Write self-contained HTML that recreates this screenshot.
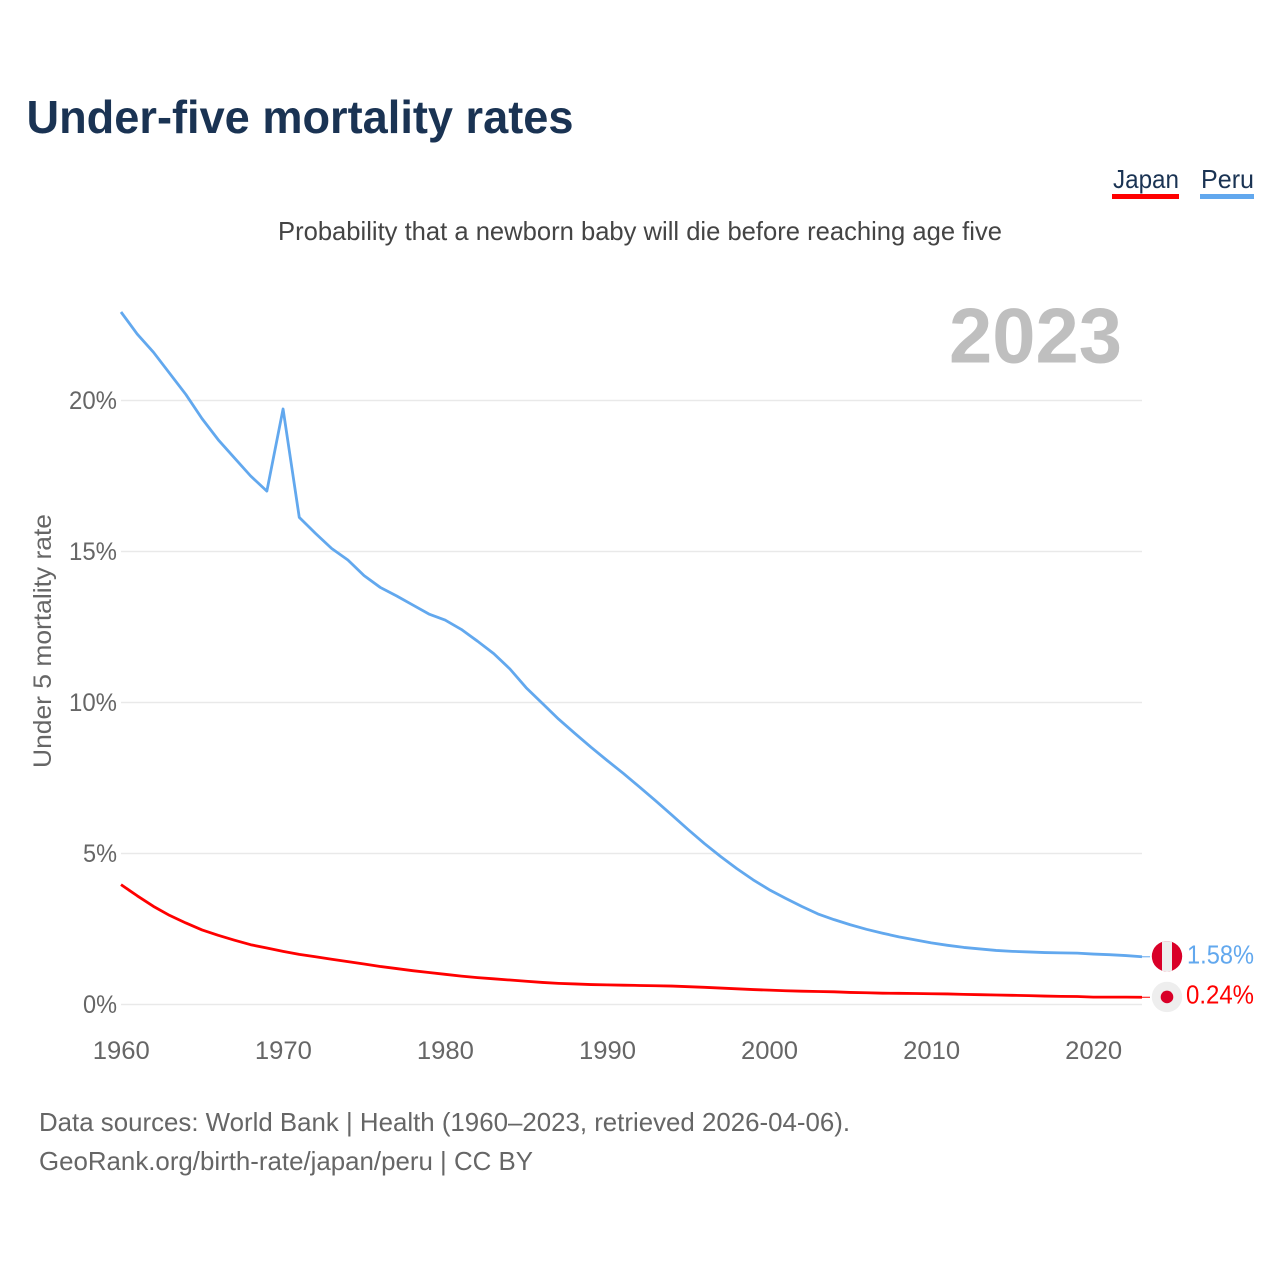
<!DOCTYPE html>
<html lang="en">
<head>
<meta charset="utf-8">
<title>Under-five mortality rates</title>
<style>
  html, body { margin: 0; padding: 0; background: #fff; }
  svg { display: block; }
  text { font-family: "Liberation Sans", "DejaVu Sans", sans-serif; }
</style>
</head>
<body>
<svg id="chart" xmlns="http://www.w3.org/2000/svg" width="1280" height="1280" viewBox="0 0 1280 1280">
  <rect x="0" y="0" width="1280" height="1280" fill="#ffffff"/>
  <text x="26.5" y="133" font-size="46" font-weight="700" fill="#1a3353" textLength="547" lengthAdjust="spacingAndGlyphs">Under-five mortality rates</text>

  <g>
    <g>
      <text x="1113" y="188" font-size="26" fill="#1a3353" textLength="66" lengthAdjust="spacingAndGlyphs">Japan</text>
      <rect x="1112" y="194" width="67" height="5" fill="#ff0000"/>
    </g>
    <g>
      <text x="1201" y="188" font-size="26" fill="#1a3353" textLength="53" lengthAdjust="spacingAndGlyphs">Peru</text>
      <rect x="1200" y="194" width="54" height="5" fill="#62a8ee"/>
    </g>
  </g>

  <text x="278" y="240" font-size="26" fill="#444444" textLength="724" lengthAdjust="spacingAndGlyphs">Probability that a newborn baby will die before reaching age five</text>
  <text x="949" y="362.7" font-size="78" font-weight="700" fill="#bfbfbf" textLength="173" lengthAdjust="spacingAndGlyphs">2023</text>
  <text transform="translate(51 768) rotate(-90)" x="0" y="0" font-size="25" fill="#666666" textLength="254" lengthAdjust="spacingAndGlyphs">Under 5 mortality rate</text>

  <g id="grid"></g>
  <g id="y-axis"></g>
  <g id="x-axis"></g>
  <g id="series"></g>
  <g id="markers"></g>

  <text x="39" y="1131" font-size="26" fill="#666666" textLength="811" lengthAdjust="spacingAndGlyphs">Data sources: World Bank | Health (1960–2023, retrieved 2026-04-06).</text>
  <text x="39" y="1170" font-size="26" fill="#666666" textLength="494" lengthAdjust="spacingAndGlyphs">GeoRank.org/birth-rate/japan/peru | CC BY</text>
</svg>
<script>
const startYear = 1960;
const xTicks = [1960, 1970, 1980, 1990, 2000, 2010, 2020];
const yTicks = [0, 5, 10, 15, 20];
const peruValues = [
  22.93, 22.2, 21.6, 20.9, 20.2, 19.4, 18.7, 18.1, 17.5, 17.0,
  19.72, 16.13, 15.6, 15.1, 14.72, 14.2, 13.81, 13.53, 13.23, 12.93,
  12.73, 12.42, 12.03, 11.62, 11.11, 10.49, 9.97, 9.45, 8.98, 8.52,
  8.08, 7.65, 7.2, 6.74, 6.27, 5.79, 5.33, 4.9, 4.5, 4.13,
  3.8, 3.52, 3.25, 3.0, 2.81, 2.64, 2.49, 2.36, 2.24, 2.14,
  2.04, 1.96, 1.89, 1.84, 1.79, 1.76, 1.74, 1.72, 1.71, 1.70,
  1.67, 1.65, 1.62, 1.58
];
const japanValues = [
  3.97, 3.6, 3.25, 2.95, 2.7, 2.47, 2.29, 2.13, 1.98, 1.87,
  1.76, 1.66, 1.58, 1.5, 1.42, 1.34, 1.26, 1.19, 1.12, 1.06,
  1.0, 0.94, 0.89, 0.85, 0.81, 0.77, 0.73, 0.7, 0.68, 0.66,
  0.65, 0.64, 0.63, 0.62, 0.61, 0.59, 0.57, 0.545, 0.52, 0.495,
  0.475, 0.455, 0.44, 0.43, 0.42, 0.40, 0.39, 0.375, 0.37, 0.365,
  0.355, 0.35, 0.335, 0.325, 0.315, 0.305, 0.295, 0.28, 0.27, 0.265,
  0.245, 0.245, 0.245, 0.24
];

const NS = 'http://www.w3.org/2000/svg';
function xScale(year) { return 121 + (year - 1960) * (1021 / 63); }
function yScale(value) { return 1004.5 - value * 30.2; }
function make(tag, attrs, parent, content) {
  const el = document.createElementNS(NS, tag);
  for (const k in attrs) el.setAttribute(k, attrs[k]);
  if (content !== undefined) el.textContent = content;
  parent.appendChild(el);
  return el;
}
const grid = document.getElementById('grid');
const yAxis = document.getElementById('y-axis');
const xAxis = document.getElementById('x-axis');
const series = document.getElementById('series');
const markers = document.getElementById('markers');

yTicks.forEach(function (t) {
  const line = make('line', { x1: 121, x2: 1142, y1: yScale(t), y2: yScale(t), stroke: '#e9e9e9', 'stroke-width': 1.5 }, grid);
  
  
  const label = make('text', {
    x: 117, y: yScale(t) + 8.5, 'text-anchor': 'end', 'font-size': 25, fill: '#666666',
    textLength: t >= 10 ? 48 : 34, lengthAdjust: 'spacingAndGlyphs'
  }, yAxis, t + '%');
  
  
});

xTicks.forEach(function (t) {
  const label = make('text', {
    x: xScale(t) + 0.3, y: 1059, 'text-anchor': 'middle', 'font-size': 25, fill: '#666666',
    textLength: 57, lengthAdjust: 'spacingAndGlyphs'
  }, xAxis, String(t));
  
  
});

function linePath(values) {
  return values.map(function (v, i) {
    return (i ? 'L' : 'M') + xScale(startYear + i).toFixed(2) + ' ' + yScale(v).toFixed(2);
  }).join(' ');
}

const peruLine = make('path', { d: linePath(peruValues), fill: 'none', stroke: '#62a8ee', 'stroke-width': 2.8, 'stroke-linejoin': 'round' }, series);


const japanLine = make('path', { d: linePath(japanValues), fill: 'none', stroke: '#ff0000', 'stroke-width': 2.8, 'stroke-linejoin': 'round' }, series);



const peruLast = peruValues[peruValues.length - 1];
const japanLast = japanValues[japanValues.length - 1];
const peruY = yScale(peruLast);
const japanY = yScale(japanLast);
const lastX = xScale(startYear + peruValues.length - 1);

const peruConnector = make('line', { x1: lastX, x2: 1150, y1: peruY, y2: peruY, stroke: '#62a8ee', 'stroke-width': 1 }, markers);


const japanConnector = make('line', { x1: lastX, x2: 1150, y1: japanY, y2: japanY, stroke: '#ff0000', 'stroke-width': 1 }, markers);



const clip = make('clipPath', { id: 'peru-clip' }, markers);
make('circle', { cx: 1167, cy: peruY - 0.5, r: 15.2 }, clip);
const peruFlag = make('g', { 'clip-path': 'url(#peru-clip)' }, markers);


make('rect', { x: 1150, y: peruY - 17, width: 34, height: 34, fill: '#d90028' }, peruFlag);
make('rect', { x: 1162, y: peruY - 17, width: 10, height: 34, fill: '#eeeeee' }, peruFlag);

const japanFlag = make('g', {}, markers);


make('circle', { cx: 1167, cy: japanY - 0.3, r: 15.2, fill: '#eeeeee' }, japanFlag);
make('circle', { cx: 1167, cy: japanY - 0.3, r: 6.3, fill: '#d90028' }, japanFlag);

const peruValueLabel = make('text', {
  x: 1187, y: peruY + 6.8, 'font-size': 26, fill: '#62a8ee', textLength: 67, lengthAdjust: 'spacingAndGlyphs'
}, markers, peruLast.toFixed(2) + '%');


const japanValueLabel = make('text', {
  x: 1186, y: japanY + 6.2, 'font-size': 26, fill: '#ff0000', textLength: 68, lengthAdjust: 'spacingAndGlyphs'
}, markers, japanLast.toFixed(2) + '%');


</script>
</body>
</html>
